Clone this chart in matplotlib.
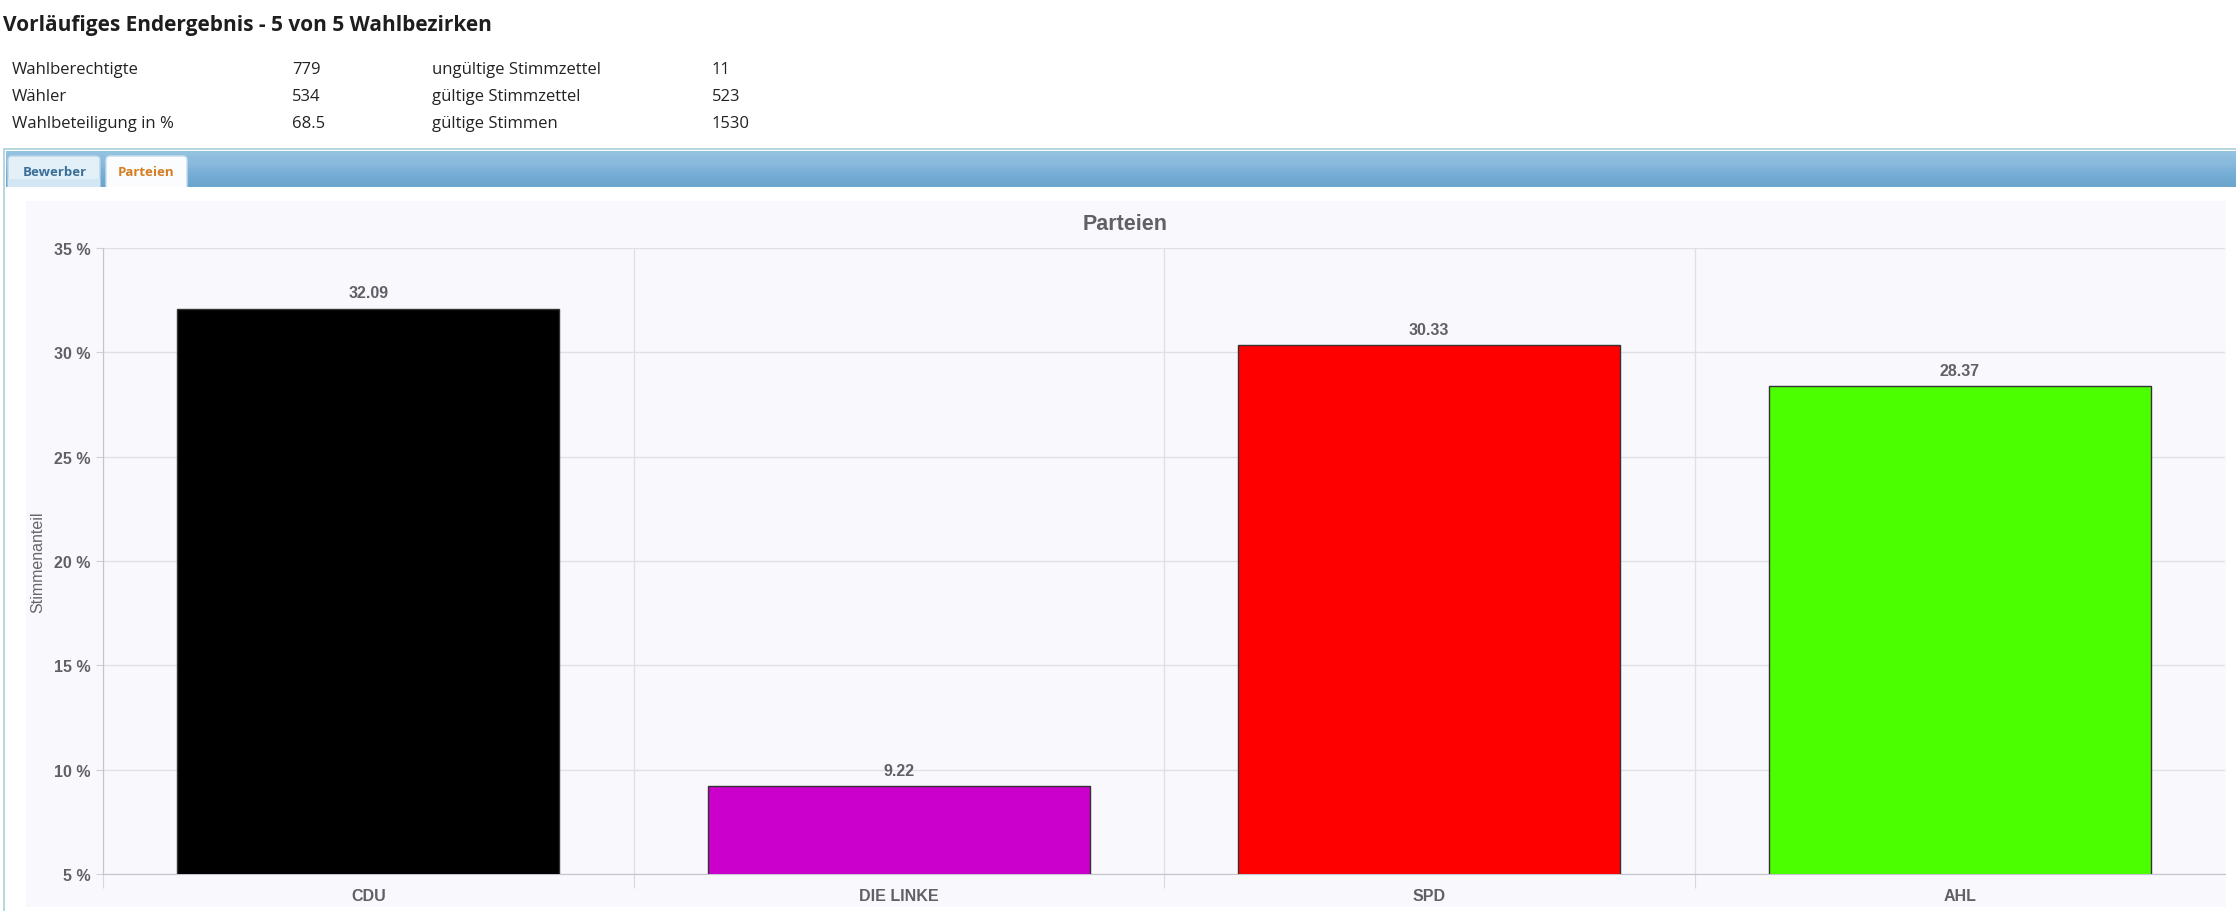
import matplotlib
matplotlib.use('Agg')
import matplotlib.pyplot as plt
import numpy as np
from matplotlib.patches import Rectangle, FancyBboxPatch

# ---------------- data ----------------
parties = ['CDU', 'DIE LINKE', 'SPD', 'AHL']
shares = [32.09, 9.22, 30.33, 28.37]
bar_colors = ['#000000', '#cc00cc', '#ff0000', '#4cff00']
y_ticks = [5, 10, 15, 20, 25, 30, 35]
y_ticklabels = ['5 %', '10 %', '15 %', '20 %', '25 %', '30 %', '35 %']
header_title = 'Vorläufiges Endergebnis - 5 von 5 Wahlbezirken'
info_labels_left = ['Wahlberechtigte', 'Wähler', 'Wahlbeteiligung in %']
info_values_left = ['779', '534', '68.5']
info_labels_right = ['ungültige Stimmzettel', 'gültige Stimmzettel', 'gültige Stimmen']
info_values_right = ['11', '523', '1530']
tab_names = ['Bewerber', 'Parteien']
chart_title = 'Parteien'
y_label = 'Stimmenanteil'

# ---------------- figure ----------------
W, H = 2236, 912
fig = plt.figure(figsize=(W / 100, H / 100), dpi=100)
fig.patch.set_facecolor('white')

bg = fig.add_axes([0, 0, 1, 1], zorder=0)
bg.set_xlim(0, W)
bg.set_ylim(H, 0)
bg.axis('off')

hfont = ['Open Sans', 'DejaVu Sans']
cfont = ['Liberation Sans', 'DejaVu Sans']

# header
bg.text(3, 25, header_title, fontsize=15, fontweight='bold', color='#1e1e1e',
        family=hfont, ha='left', va='center')
row_y = [70, 97, 124]
for i in range(3):
    bg.text(12, row_y[i], info_labels_left[i], fontsize=12, color='#222222',
            family=hfont, ha='left', va='center')
    bg.text(292, row_y[i], info_values_left[i], fontsize=12, color='#222222',
            family=hfont, ha='left', va='center')
    bg.text(432, row_y[i], info_labels_right[i], fontsize=12, color='#222222',
            family=hfont, ha='left', va='center')
    bg.text(712, row_y[i], info_values_right[i], fontsize=12, color='#222222',
            family=hfont, ha='left', va='center')

# container border
bg.add_patch(Rectangle((4, 150), W, 800, facecolor='white', edgecolor='#a9cfd6',
                       lw=1.2, zorder=1))
# tab bar gradient
grad = np.array([
    [0.58, 0.76, 0.88],
    [0.55, 0.74, 0.87],
    [0.54, 0.73, 0.87],
    [0.50, 0.70, 0.85],
    [0.46, 0.68, 0.84],
    [0.44, 0.66, 0.82],
    [0.43, 0.65, 0.81],
])
img = np.repeat(grad[:, None, :], 2, axis=1)
bg.imshow(img, extent=(6, W, 188, 152), origin='upper', aspect='auto',
          interpolation='bilinear', zorder=2)

# tabs
bg.add_patch(FancyBboxPatch((8, 157), 92, 40, boxstyle='round,pad=0,rounding_size=4',
                            facecolor='#e4f0f8', edgecolor='#b8d4e8', lw=1, zorder=3))
bg.add_patch(Rectangle((8, 180), 92, 8, facecolor='#d2e6f4', edgecolor='none', zorder=3))
bg.add_patch(FancyBboxPatch((106, 157), 81, 40, boxstyle='round,pad=0,rounding_size=4',
                            facecolor='#fbfcfe', edgecolor='#c8dcec', lw=1, zorder=3))
bg.add_patch(Rectangle((5, 188), W, 14, facecolor='white', edgecolor='none', zorder=3))
bg.text(55, 173, tab_names[0], fontsize=9.5, fontweight='bold', color='#3a6f9a',
        family=hfont, ha='center', va='center', zorder=4)
bg.text(146, 173, tab_names[1], fontsize=9.5, fontweight='bold', color='#d57d20',
        family=hfont, ha='center', va='center', zorder=4)

# chart panel
bg.add_patch(Rectangle((26, 202), 2200, 706, facecolor='#f8f8fd', edgecolor='none',
                       zorder=3))
bg.text(1125, 225, chart_title, fontsize=15.5, fontweight='bold', color='#606066',
        family=cfont, ha='center', va='center', zorder=4)
bg.text(38, 562, y_label, fontsize=11.5, color='#66666c', family=cfont,
        rotation=90, ha='center', va='center', zorder=4)

# ---------------- chart axes ----------------
left, right, top, bottom = 103, 2225, 249, 875
ax = fig.add_axes([left / W, 1 - bottom / H, (right - left) / W, (bottom - top) / H],
                  zorder=5)
ax.set_facecolor('none')

x = np.arange(len(parties))
ax.bar(x, shares, width=0.72, color=bar_colors, edgecolor='#333333', linewidth=1,
       zorder=3)
ax.set_xlim(-0.5, 3.5)
ax.set_ylim(5, 35)

for xi, v in zip(x, shares):
    ax.annotate(f'{v:.2f}', (xi, v), xytext=(0, 6), textcoords='offset points',
                ha='center', va='bottom', fontsize=11.5, fontweight='bold',
                color='#606066', family=cfont)

ax.set_yticks(y_ticks)
ax.set_yticklabels(y_ticklabels, fontsize=11.5, fontweight='bold', color='#606066',
                   family=cfont)
ax.tick_params(axis='y', length=5, color='#d0d0d8', pad=4)

ax.set_xticks([-0.5, 0.5, 1.5, 2.5])
ax.set_xticklabels([''] * 4)
ax.set_xticks(x, minor=True)
ax.set_xticklabels(parties, minor=True, fontsize=11.5, fontweight='bold',
                   color='#606066', family=cfont)
ax.tick_params(axis='x', which='major', length=10, color='#d8d8e0')
ax.tick_params(axis='x', which='minor', length=0, pad=10)

ax.grid(True, which='major', color='#e0e0e8', linewidth=1, zorder=0)
ax.set_axisbelow(True)
for s in ['top', 'right']:
    ax.spines[s].set_visible(False)
ax.spines['left'].set_color('#c4c4cc')
ax.spines['bottom'].set_color('#c4c4d0')

fig.savefig('out.png', dpi=100, facecolor='white')
